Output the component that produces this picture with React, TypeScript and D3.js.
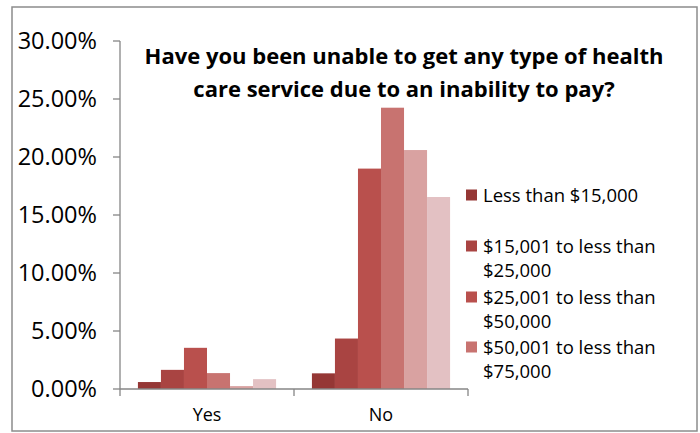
import React from "react";
import * as d3 from "d3";

const categories = ["Yes", "No"];
const seriesNames = [
  "Less than $15,000",
  "$15,001 to less than $25,000",
  "$25,001 to less than $50,000",
  "$50,001 to less than $75,000",
  "$75,001 to less than $100,000",
  "$100,000 or more",
];
const legendLines = [
  ["Less than $15,000"],
  ["$15,001 to less than", "$25,000"],
  ["$25,001 to less than", "$50,000"],
  ["$50,001 to less than", "$75,000"],
];
// values per series: [Yes, No]
const seriesValues = [
  [0.006, 0.0135],
  [0.0165, 0.0435],
  [0.0355, 0.19],
  [0.0137, 0.2425],
  [0.0025, 0.206],
  [0.0085, 0.1655],
];
const yTicks = [0, 0.05, 0.1, 0.15, 0.2, 0.25, 0.3];
const colors = ["#953735", "#A94442", "#B9504D", "#C87370", "#D9A2A1", "#E3C1C3"];

export default function App() {
  const W = 700, H = 433;
  const left = 120, right = 468, top = 41, bottom = 389;
  const y = d3.scaleLinear().domain([0, 0.3]).range([bottom, top]);
  const x0 = d3.scaleBand().domain(categories).range([left, right]).paddingInner(0).paddingOuter(0);
  const inner = 0.206;
  const x1 = d3.scaleBand().domain(seriesNames).range([x0.bandwidth() * inner / 2, x0.bandwidth() * (1 - inner / 2)]);
  const fmt = d3.format(".2%");
  const font = "'Open Sans', sans-serif";
  const axisColor = "#868686";

  const legendY = [195, 246, 297, 347];

  return (
    <svg width={W} height={H} style={{ position: "absolute", left: 0, top: 0, background: "#fff" }} fontFamily={font}>
      <rect x={12} y={7} width={685} height={424} fill="#fff" stroke="#8c8c8c" strokeWidth={1.5} />
      {/* bars */}
      {seriesNames.map((s, si) =>
        categories.map((c, ci) => {
          const v = seriesValues[si][ci];
          return (
            <rect
              key={s + c}
              x={(x0(c) as number) + (x1(s) as number)}
              y={y(v)}
              width={x1.bandwidth()}
              height={bottom - y(v)}
              fill={colors[si]}
            />
          );
        })
      )}
      {/* y axis */}
      <line x1={left} x2={left} y1={top} y2={bottom} stroke={axisColor} strokeWidth={1.3} />
      {yTicks.map((t) => (
        <g key={t}>
          <line x1={left - 7} x2={left} y1={y(t)} y2={y(t)} stroke={axisColor} strokeWidth={1.3} />
          <text x={97} y={y(t)} dy="0.36em" textAnchor="end" fontSize={23.5} fill="#000">
            {fmt(t)}
          </text>
        </g>
      ))}
      {/* x axis */}
      <line x1={left} x2={right} y1={bottom} y2={bottom} stroke={axisColor} strokeWidth={1.3} />
      {[left, ...categories.map((c) => (x0(c) as number) + x0.bandwidth())].map((px, i) => (
        <line key={i} x1={px} x2={px} y1={bottom} y2={bottom + 7} stroke={axisColor} strokeWidth={1.3} />
      ))}
      {categories.map((c) => (
        <text key={c} x={(x0(c) as number) + x0.bandwidth() / 2} y={415} dy="0.36em" textAnchor="middle" fontSize={18} fill="#000">
          {c}
        </text>
      ))}
      {/* title */}
      <text x={404} y={56} dy="0.36em" textAnchor="middle" fontSize={22} fontWeight="bold" fill="#000">
        Have you been unable to get any type of health
      </text>
      <text x={404} y={89} dy="0.36em" textAnchor="middle" fontSize={22} fontWeight="bold" fill="#000">
        care service due to an inability to pay?
      </text>
      {/* legend */}
      {legendLines.map((lines, i) => (
        <g key={i}>
          <rect x={466} y={legendY[i] - 5.5} width={11} height={11} fill={colors[i]} />
          {lines.map((ln, j) => (
            <text key={j} x={483} y={legendY[i] + j * 24} dy="0.36em" fontSize={18.5} fill="#000">
              {ln}
            </text>
          ))}
        </g>
      ))}
    </svg>
  );
}
